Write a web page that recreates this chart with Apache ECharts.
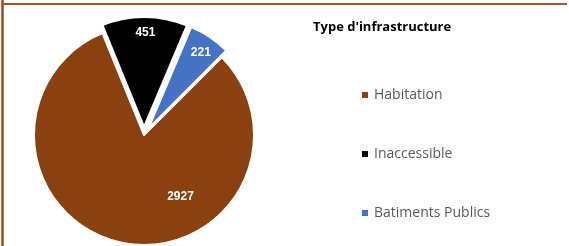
<!DOCTYPE html>
<html>
<head>
<meta charset="utf-8">
<script src="https://cdn.jsdelivr.net/npm/echarts@6/dist/echarts.min.js"></script>
<style>
  html, body { margin: 0; padding: 0; background: #fff; }
  #chart { width: 569px; height: 246px; }
</style>
</head>
<body>
<div id="chart"></div>
<script>
var categories = ['Habitation', 'Inaccessible', 'Batiments Publics'];
var values = [2927, 451, 221];
var colors = ['#8B4010', '#000000', '#4472C4'];
var exploded = [false, true, true];
// label nudges (px) to mimic the Excel placement
var labelShift = [[48, 5], [1, -36], [20, -28]];

var dom = document.getElementById('chart');
var myChart = echarts.init(dom);

var pieData = categories.map(function (name, i) {
	return {
		name: name,
		value: values[i],
		selected: exploded[i],
		itemStyle: { color: colors[i] }
	};
});

var option = {
	animation: false,
	title: {
		text: "Type d'infrastructure",
		left: 313,
		top: 21,
		padding: 0,
		textStyle: {
			fontFamily: 'Open Sans',
			fontSize: 13,
			fontWeight: 'bold',
			color: '#000'
		}
	},
	legend: {
		orient: 'vertical',
		left: 360,
		top: 88,
		padding: 0,
		itemGap: 45,
		itemWidth: 8,
		itemHeight: 8,
		icon: 'rect',
		selectedMode: false,
		data: categories,
		textStyle: {
			fontFamily: 'Open Sans',
			fontSize: 14,
			color: '#595959'
		}
	},
	graphic: [
		{ type: 'line', shape: { x1: 2.5, y1: 0, x2: 2.5, y2: 246 }, style: { stroke: '#9A4B1A', lineWidth: 2.5 } },
		{ type: 'line', shape: { x1: 2, y1: 4, x2: 567, y2: 4 }, style: { stroke: '#A0572A', lineWidth: 2 } }
	],
	series: [{
		type: 'pie',
		center: [144, 135],
		radius: 110,
		startAngle: 45,
		clockwise: true,
		selectedMode: 'multiple',
		selectedOffset: 8,
		select: { itemStyle: { borderColor: '#fff', borderWidth: 2 } },
		itemStyle: { borderColor: '#fff', borderWidth: 2 },
		emphasis: { disabled: true },
		label: {
			show: true,
			position: 'inside',
			formatter: '{c}',
			color: '#fff',
			fontFamily: 'Liberation Sans',
			fontWeight: 'bold',
			fontSize: 12
		},
		labelLine: { show: false },
		labelLayout: function (params) {
			var s = labelShift[params.dataIndex];
			return { dx: s[0], dy: s[1] };
		},
		data: pieData
	}]
};

myChart.setOption(option, true);
window.addEventListener('resize', function () {
	myChart.resize();
});
</script>
</body>
</html>
